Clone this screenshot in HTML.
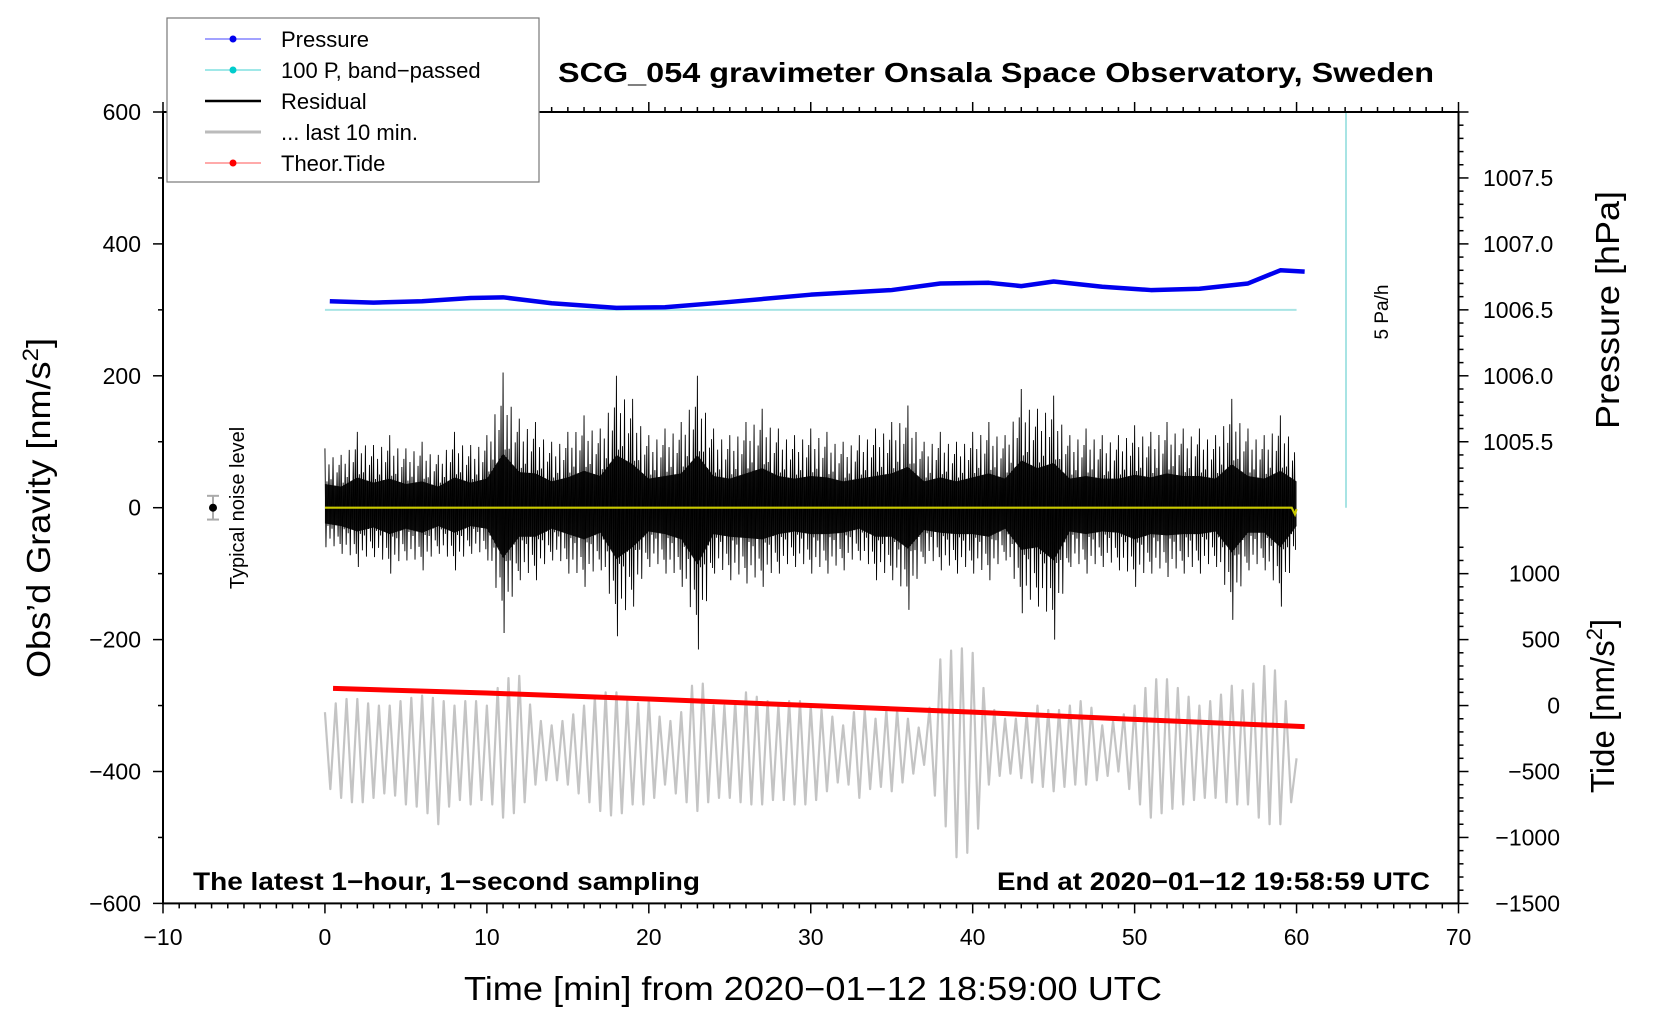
<!DOCTYPE html>
<html><head><meta charset="utf-8"><style>
html,body{margin:0;padding:0;background:#fff;width:1660px;height:1020px;overflow:hidden}
svg{display:block}
text{font-family:"Liberation Sans",sans-serif;fill:#000}
</style></head><body>
<svg id="chart" width="1660" height="1020" viewBox="0 0 1660 1020" xmlns="http://www.w3.org/2000/svg">
<g id="plot"></g>
<g id="axes"></g>
<text x="996" y="82" text-anchor="middle" font-size="28" font-weight="bold" textLength="876" lengthAdjust="spacingAndGlyphs">SCG_054 gravimeter Onsala Space Observatory, Sweden</text>
<text transform="translate(50,508) rotate(-90)" text-anchor="middle" font-size="33" textLength="340" lengthAdjust="spacingAndGlyphs">Obs’d Gravity [nm/s<tspan dy="-12" font-size="22">2</tspan><tspan dy="12">]</tspan></text>
<text x="813" y="1000" text-anchor="middle" font-size="33" textLength="698" lengthAdjust="spacingAndGlyphs">Time [min] from 2020−01−12 18:59:00 UTC</text>
<text transform="translate(1619,310) rotate(-90)" text-anchor="middle" font-size="33" textLength="238" lengthAdjust="spacingAndGlyphs">Pressure [hPa]</text>
<text transform="translate(1614,706) rotate(-90)" text-anchor="middle" font-size="33">Tide [nm/s<tspan dy="-12" font-size="22">2</tspan><tspan dy="12">]</tspan></text>
<text transform="translate(244,508) rotate(-90)" text-anchor="middle" font-size="20">Typical noise level</text>
<text transform="translate(1388,312) rotate(-90)" text-anchor="middle" font-size="19">5 Pa/h</text>
<text x="193" y="890" font-size="25" font-weight="bold" textLength="507" lengthAdjust="spacingAndGlyphs">The latest 1−hour, 1−second sampling</text>
<text x="1430" y="890" text-anchor="end" font-size="25" font-weight="bold" textLength="433" lengthAdjust="spacingAndGlyphs">End at 2020−01−12 19:58:59 UTC</text>
<g>
<rect x="167" y="18" width="372" height="164" fill="#fff" stroke="#777" stroke-width="1.2"/>
<g><line x1="205" y1="39" x2="261" y2="39" stroke="#4444ff" stroke-width="1"/><circle cx="233" cy="39" r="3.5" fill="#0000ee"/><text x="281" y="47" font-size="22">Pressure</text></g>
<g><line x1="205" y1="70" x2="261" y2="70" stroke="#40d0d0" stroke-width="1"/><circle cx="233" cy="70" r="3.5" fill="#00cccc"/><text x="281" y="78" font-size="22">100 P, band−passed</text></g>
<g><line x1="205" y1="101" x2="261" y2="101" stroke="#000" stroke-width="2.5"/><text x="281" y="109" font-size="22">Residual</text></g>
<g><line x1="205" y1="132" x2="261" y2="132" stroke="#bbb" stroke-width="3"/><text x="281" y="140" font-size="22">... last 10 min.</text></g>
<g><line x1="205" y1="163" x2="261" y2="163" stroke="#ff5555" stroke-width="1"/><circle cx="233" cy="163" r="3.5" fill="#ff0000"/><text x="281" y="171" font-size="22">Theor.Tide</text></g>
</g>
</svg>
<script>
// ---- data ----
const pressTimes = [0.3,3,6,9,11,14,18,21,25,30,35,38,41,43,45,48,51,54,57,59,60.5];
const pressValues = [1006.565,1006.555,1006.565,1006.59,1006.595,1006.55,1006.515,1006.52,1006.56,1006.615,1006.65,1006.70,1006.705,1006.68,1006.715,1006.675,1006.65,1006.66,1006.70,1006.80,1006.79];
const bandTimes = [0,60];
const bandValues = [300,300];
const resHi = [90,80,115,95,110,90,100,80,115,95,110,205,135,130,100,115,140,120,200,165,110,120,130,200,120,110,130,150,120,110,120,115,100,110,120,130,155,100,115,100,115,130,110,180,150,170,110,120,110,110,125,115,130,120,120,110,165,120,110,140,100];
const resLo = [-60,-70,-90,-75,-100,-80,-95,-70,-95,-70,-80,-190,-110,-110,-80,-100,-120,-95,-195,-150,-90,-100,-120,-215,-100,-110,-115,-120,-100,-90,-100,-100,-95,-80,-110,-110,-155,-85,-95,-100,-100,-110,-80,-160,-150,-200,-90,-100,-90,-95,-120,-100,-105,-100,-100,-90,-170,-95,-95,-150,-70];
const grayHi = [-310,-290,-290,-300,-300,-290,-285,-290,-300,-290,-300,-260,-255,-320,-330,-320,-300,-280,-280,-300,-290,-330,-310,-250,-300,-300,-280,-290,-300,-290,-300,-310,-330,-300,-320,-300,-320,-340,-230,-210,-220,-300,-320,-320,-300,-310,-300,-290,-330,-320,-300,-260,-260,-280,-300,-290,-270,-280,-240,-250,-380];
const grayLo = [-420,-440,-450,-440,-430,-450,-455,-480,-440,-450,-440,-470,-460,-420,-410,-420,-440,-460,-470,-450,-450,-420,-440,-460,-440,-440,-450,-450,-440,-450,-450,-430,-410,-440,-420,-430,-410,-390,-460,-530,-520,-420,-400,-410,-420,-430,-420,-420,-410,-400,-440,-470,-460,-450,-440,-440,-450,-450,-480,-480,-430];
const tideTimes = [0.5,10,20,30,40,50,60.5];
const tideValues = [130,95,50,0,-50,-105,-160];
const xTicks = [-10,0,10,20,30,40,50,60,70];
const yTicks = [-600,-400,-200,0,200,400,600];
const pTicks = [1005.5,1006.0,1006.5,1007.0,1007.5];
const tTicks = [-1500,-1000,-500,0,500,1000];

// ---- scales ----
const L=163,R=1458.5,T=112,B=903.4;
const X=t=>L+(t+10)*(R-L)/80;
const Y=g=>T+(600-g)*(B-T)/1200;
const YP=p=>Y((p-1005)*200);
const YT=v=>Y(v/5-300);
const NS='http://www.w3.org/2000/svg';
const plot=document.getElementById('plot'), axes=document.getElementById('axes');
function mk(tag,attrs,parent){const e=document.createElementNS(NS,tag);for(const k in attrs)e.setAttribute(k,attrs[k]);parent.appendChild(e);return e;}
function lerp(a,i,f){return a[i]+((a[i+1]!==undefined?a[i+1]:a[i])-a[i])*f;}

// residual core
let pts=[];
for(let i=0;i<resHi.length;i++)pts.push(X(i)+','+Y(resHi[i]*0.4));
for(let i=resLo.length-1;i>=0;i--)pts.push(X(i)+','+Y(resLo[i]*0.4));
const core=mk('polygon',{points:pts.join(' '),fill:'#1a1a1a'},plot);


// residual spikes
const wts=[1,0.45,0.75,0.5,0.9,0.4,0.65,0.8];
let sp=[];
for(let i=0;i<resHi.length-1;i++){
  for(let k=0;k<8;k++){
    const f=k/8, t=i+f, w=wts[k];
    sp.push(X(t)+','+Y(lerp(resHi,i,f)*w)); sp.push(X(t+1/16)+','+Y(lerp(resLo,i,f)*w));
  }
}
const res=mk('polyline',{points:sp.join(' '),fill:'none',stroke:'#000','stroke-width':0.9},plot);


// yellow zero line
const yl=mk('polyline',{points:X(0)+','+Y(0)+' '+X(59.7)+','+Y(0)+' '+X(59.9)+','+Y(-10)+' '+X(60)+','+Y(-2),fill:'none',stroke:'#c8c800','stroke-width':2.2},plot);



// gray last 10 min (about 1.5 cycles per minute)
let gp=[];
for(let s=0;s<=180;s++){
  const t=s/3, i=Math.min(Math.floor(t),grayHi.length-1), f=t-i;
  const v=(s%2===0)?lerp(grayHi,i,f):lerp(grayLo,i,f);
  gp.push(X(t)+','+Y(v));
}
const gray=mk('polyline',{points:gp.join(' '),fill:'none',stroke:'#c4c4c4','stroke-width':2.2,'stroke-linejoin':'round'},plot);



// band-passed
const bp=mk('polyline',{points:bandTimes.map((t,i)=>X(t)+','+Y(bandValues[i])).join(' '),fill:'none',stroke:'#a8e4e4','stroke-width':2},plot);


// pressure
const pr=mk('polyline',{points:pressTimes.map((t,i)=>X(t)+','+YP(pressValues[i])).join(' '),fill:'none',stroke:'#0000ee','stroke-width':4.5,'stroke-linejoin':'round'},plot);


// tide
const td=mk('polyline',{points:tideTimes.map((t,i)=>X(t)+','+YT(tideValues[i])).join(' '),fill:'none',stroke:'#ff0000','stroke-width':5},plot);


// 5 Pa/h line
const rl=mk('line',{x1:1346,y1:T,x2:1346,y2:Y(0),stroke:'#a8e4e4','stroke-width':2},plot);


// noise level error bar
const nb=mk('g',{},plot);


mk('line',{x1:213,y1:Y(18),x2:213,y2:Y(-18),stroke:'#aaa','stroke-width':2},nb);
mk('line',{x1:207,y1:Y(18),x2:219,y2:Y(18),stroke:'#aaa','stroke-width':2},nb);
mk('line',{x1:207,y1:Y(-18),x2:219,y2:Y(-18),stroke:'#aaa','stroke-width':2},nb);
mk('circle',{cx:213,cy:Y(0),r:4,fill:'#000'},nb);

// frame
const fr=mk('rect',{x:L,y:T,width:R-L,height:B-T,fill:'none',stroke:'#000','stroke-width':2},axes);


for(let m=-10;m<=70;m++){
  const maj=m%10===0, len=maj?10:5;
  mk('line',{x1:X(m),y1:B,x2:X(m),y2:B+len,stroke:'#000','stroke-width':1.5},axes);
  mk('line',{x1:X(m),y1:T,x2:X(m),y2:T-len,stroke:'#000','stroke-width':1.5},axes);
}
xTicks.forEach(v=>{const t=mk('text',{x:X(v),y:945,'text-anchor':'middle','font-size':23},axes);t.textContent=String(v).replace('-','−');

});
for(let g=-600;g<=600;g+=100){mk('line',{x1:L,y1:Y(g),x2:L-(g%200===0?10:5),y2:Y(g),stroke:'#000','stroke-width':1.5},axes);}
yTicks.forEach(v=>{const t=mk('text',{x:141,y:Y(v)+8,'text-anchor':'end','font-size':23},axes);t.textContent=String(v).replace('-','−');

});
for(let k=0;k<=30;k++){const p=1005+k*0.1;mk('line',{x1:R,y1:YP(p),x2:R+(k%5===0?10:5),y2:YP(p),stroke:'#000','stroke-width':1.5},axes);}
pTicks.forEach(v=>{const t=mk('text',{x:1483,y:YP(v)+8,'font-size':23},axes);t.textContent=v.toFixed(1);

});
for(let v=-1500;v<=1200;v+=100){mk('line',{x1:R,y1:YT(v),x2:R+(v%500===0?10:5),y2:YT(v),stroke:'#000','stroke-width':1.5},axes);}
tTicks.forEach(v=>{const t=mk('text',{x:1560,y:YT(v)+8,'text-anchor':'end','font-size':23},axes);t.textContent=String(v).replace('-','−');

});
</script>
</body></html>
